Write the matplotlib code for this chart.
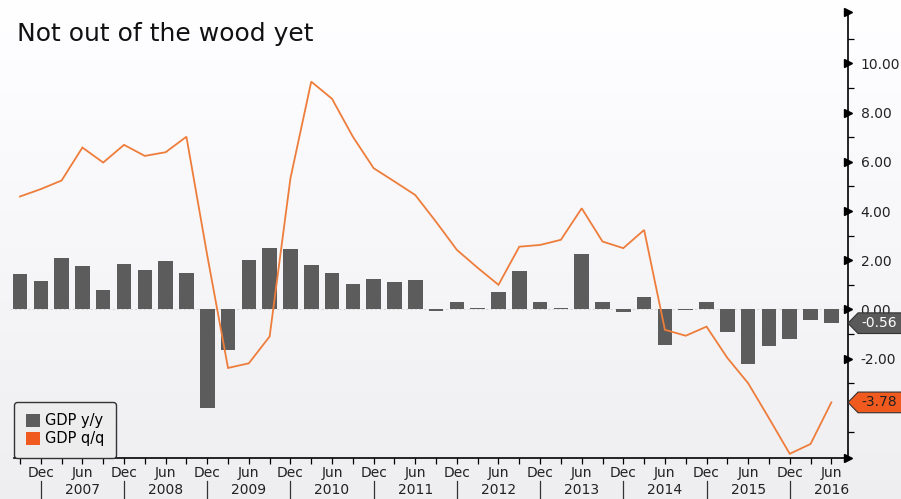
import numpy as np
import matplotlib
matplotlib.use("Agg")
import matplotlib.pyplot as plt
from matplotlib.patches import Patch, Polygon
import matplotlib.transforms as mtransforms

# ---- data ----
title = "Not out of the wood yet"
gdp_yy = [1.42, 1.15, 2.1, 1.75, 0.8, 1.86, 1.61, 1.95, 1.49, -4.0,
          -1.64, 2.0, 2.5, 2.45, 1.8, 1.5, 1.04, 1.25, 1.1, 1.2,
          -0.05, 0.3, 0.05, 0.7, 1.55, 0.3, 0.05, 2.26, 0.3, -0.1,
          0.5, -1.45, -0.04, 0.3, -0.9, -2.2, -1.5, -1.2, -0.45, -0.56]
gdp_qq = [4.59, 4.89, 5.24, 6.58, 5.97, 6.69, 6.24, 6.39, 7.02, 2.2,
          -2.38, -2.19, -1.1, 5.33, 9.26, 8.56, 7.02, 5.74, 5.2, 4.65,
          3.56, 2.42, 1.69, 1.0, 2.55, 2.62, 2.83, 4.11, 2.76, 2.49,
          3.23, -0.83, -1.07, -0.7, -1.97, -3.0, -4.42, -5.87, -5.47, -3.78]
month_labels = ["Dec", "Jun"] * 10
year_labels = ["2007", "2008", "2009", "2010", "2011", "2012", "2013", "2014", "2015", "2016"]
y_ticks = [-2, 0, 2, 4, 6, 8, 10]
series_names = ["GDP y/y", "GDP q/q"]
last_yy = gdp_yy[-1]
last_qq = gdp_qq[-1]

BAR_C = "#5c5c5c"
LINE_C = "#ee7d3b"
TAG_OR = "#f05a1e"
FONT = "DejaVu Sans"

W, H = 901, 499
fig = plt.figure(figsize=(W / 100, H / 100), dpi=100)

# background gradient
bg = fig.add_axes([0, 0, 1, 1], zorder=-10)
grad = np.linspace(1.0, 0.935, 256).reshape(-1, 1)
bg.imshow(np.dstack([grad, grad, grad + 0.01]).clip(0, 1), aspect="auto", extent=[0, 1, 0, 1])
bg.set_axis_off()

L, R, T, B = 10, 848, 12, 458
ax = fig.add_axes([L / W, 1 - B / H, (R - L) / W, (B - T) / H])
ax.patch.set_alpha(0)

n = len(gdp_yy)
x = np.arange(n)
ax.bar(x, gdp_yy, width=0.7, color=BAR_C, zorder=2)
ax.plot(x, gdp_qq, color=LINE_C, lw=1.3, zorder=3, solid_joinstyle="miter")
ax.axhline(0, color="#d8d8d8", lw=0.8, ls=(0, (2, 2)), zorder=1)

ax.set_xlim(-0.48, 39.8)
ax.set_ylim(-6.04, 12.09)

for s in ["top", "left"]:
    ax.spines[s].set_visible(False)
ax.spines["right"].set_color("black")
ax.spines["bottom"].set_color("black")
ax.spines["right"].set_linewidth(1.2)
ax.spines["bottom"].set_linewidth(1.2)
ax.spines["bottom"].set_bounds(-0.3, 39.8)

# y axis on right
ax.yaxis.tick_right()
ax.set_yticks(y_ticks)
ax.set_yticklabels([f"{v:.2f}" for v in y_ticks], fontsize=10, family=FONT, color="#222222")
ax.set_yticks(np.arange(-5, 12, 2), minor=True)
ax.tick_params(axis="y", which="major", length=0, pad=9)
ax.tick_params(axis="y", which="minor", length=4, width=0.9, color="black", direction="out")
tr_y = mtransforms.blended_transform_factory(ax.transAxes, ax.transData)
ax.plot([1.0] * len(y_ticks), y_ticks, ls="none", marker=">", ms=5.5, color="black",
        transform=tr_y, clip_on=False, zorder=5)
ax.plot([1.0, 1.0], [0, 1], ls="none", marker=">", ms=5.5, color="black",
        transform=ax.transAxes, clip_on=False, zorder=5)

# x axis
ax.set_xticks(x[1::2])
ax.set_xticklabels(month_labels, fontsize=10, family=FONT, color="#222222")
ax.set_xticks(x, minor=True)
ax.tick_params(axis="x", which="both", length=4, width=0.9, direction="out", pad=2)
tr_x = mtransforms.blended_transform_factory(ax.transData, ax.transAxes)
for i, yl in enumerate(year_labels):
    ax.text(x[3 + 4 * i], -0.072, yl, transform=tr_x, ha="center", va="center",
            fontsize=10, family=FONT, color="#222222", clip_on=False)
    ax.plot([x[1 + 4 * i]] * 2, [-0.052, -0.095], transform=tr_x, color="#333333",
            lw=0.9, clip_on=False)

# value tags
def tag(val, face, tcolor):
    hh = 0.42
    pts = [(1.0, val), (1.012, val + hh), (1.064, val + hh), (1.064, val - hh), (1.012, val - hh)]
    poly = Polygon(pts, closed=True, transform=tr_y, facecolor=face, edgecolor="#333333",
                   lw=0.8, clip_on=False, zorder=6)
    ax.add_patch(poly)
    ax.text(1.037, val, f"{val:.2f}", transform=tr_y, ha="center", va="center",
            fontsize=10, family=FONT, color=tcolor, zorder=7, clip_on=False)

tag(last_yy, "#5a5a5a", "white")
tag(last_qq, TAG_OR, "#222222")

# legend
handles = [Patch(facecolor=BAR_C, edgecolor="none"), Patch(facecolor=TAG_OR, edgecolor="none")]
leg = ax.legend(handles, series_names, loc="lower left", bbox_to_anchor=(0.005, 0.0),
                prop={"family": FONT, "size": 10.5}, frameon=True, fancybox=True,
                handlelength=1.0, handleheight=1.0, handletextpad=0.3, borderpad=0.8,
                labelspacing=0.2, borderaxespad=0.0)
leg.get_frame().set_facecolor("#ededed")
leg.get_frame().set_edgecolor("#333333")
leg.get_frame().set_alpha(1)
leg.get_frame().set_linewidth(1.0)

fig.text(17 / W, 1 - 34 / H, title, fontsize=18, family=FONT, color="#111111",
         ha="left", va="center")

fig.savefig("out.png", dpi=100)
